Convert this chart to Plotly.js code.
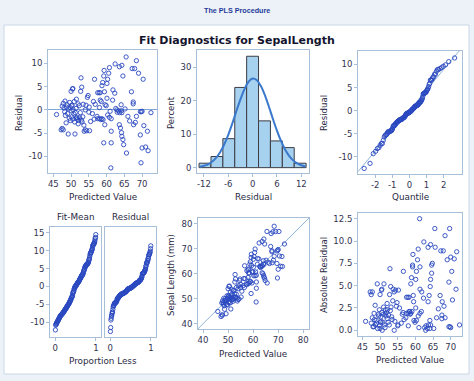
<!DOCTYPE html>
<html>
<head>
<meta charset="utf-8">
<script src="https://cdn.plot.ly/plotly-3.0.1.min.js"></script>
<style>
html,body{margin:0;padding:0;background:#edf2f8;}
#chart{width:474px;height:381px;}
</style>
</head>
<body>
<div id="chart"></div>
<script>
// ---- Data (Iris, PLS fit of SepalLength) ----
const predicted = [
 65.5,68.4,
 59.3,60.6,60.8,62.4,63.6,64.3,67.2,67.9,69.0,
 50.4,50.5,52.8,53.0,56.6,58.7,58.9,59.2,60.1,60.3,64.6,70.3,
 50.0,52.7,54.8,54.6,57.5,57.9,58.2,58.2,58.5,59.4,60.1,61.8,62.3,61.7,67.0,67.5,56.3,48.3,49.6,50.9,51.5,
 45.9,47.5,47.8,48.0,48.2,48.7,48.4,48.9,49.0,49.3,49.8,50.0,50.3,50.6,50.8,51.2,51.4,52.0,52.3,52.6,53.4,54.0,54.2,55.0,55.1,
 56.8,57.3,59.6,59.9,60.3,62.9,63.4,63.7,64.1,64.3,64.1,66.0,67.5,68.4,69.5,69.8,70.0,72.5,
 63.0,62.6,65.2,58.0,56.0,61.0,50.1,
 47.2,47.5,47.8,49.5,50.2,51.7,51.8,52.1,52.4,53.1,53.3,53.6,57.5,58.0,58.4,58.7,59.0,59.5,60.8,61.3,63.6,63.9,66.5,67.6,68.1,70.5,54.0,49.8,50.5,51.0,51.5,52.0,52.9,55.5,56.5,48.6,
 59.2,61.3,64.6,64.3,69.5,49.2,51.1,64.2,61.3,71.5,53.7,54.4,55.2,
 65.6,70.0,71.0,71.7,64.8,
 61.2,69.7
];
const residual = [
 11.4,10.6,
 8.5,7.9,9.1,9.9,9.3,9.6,8.9,8.9,7.9,
 4.5,4.6,6.9,4.9,6.6,5.2,5.9,7.3,5.7,6.6,7.3,6.6,
 4.0,4.0,3.1,2.7,3.7,3.7,3.7,2.1,1.8,3.9,2.5,4.3,3.6,2.1,3.9,1.7,1.8,1.9,1.6,1.8,2.3,
 -1.0,0.8,1.4,0.4,-0.4,0.6,-1.2,1.1,-0.8,0.2,0.5,-0.2,1.0,0.0,-0.9,-0.6,0.3,1.3,0.9,-0.6,1.2,0.0,1.0,-0.5,0.6,
 1.2,-1.4,1.1,0.9,-1.1,0.0,-0.2,-0.6,-0.2,-0.6,1.1,-1.4,1.3,-1.4,-0.4,-0.4,-0.3,-0.6,
 -0.5,0.3,0.2,0.5,-0.8,-0.3,0.9,
 -4.3,-4.0,-4.3,-1.8,-1.5,-1.6,-2.0,-2.3,-1.7,-2.6,-1.5,-3.3,-1.9,-1.9,-2.1,-1.9,-2.1,-3.2,-1.6,-1.9,-3.2,-3.9,-2.4,-3.2,-2.7,-3.4,-4.3,-2.3,-2.0,-2.6,-1.8,-3.0,-2.2,-2.5,-2.0,-2.8,
 -7.1,-7.1,-6.4,-5.7,-5.4,-5.2,-5.2,-4.9,-4.6,-4.6,-4.6,-4.5,-4.5,
 -9.3,-8.2,-8.0,-8.8,-7.5,
 -12.5,-11.4
];
// Histogram of residuals (bin midpoints and percent), as drawn
const binMid = [-11.72,-8.79,-5.86,-2.93,0,2.93,5.86,8.79,11.72];
const binPercent = [1.33,3.33,8.67,24.0,33.33,14.0,8.0,6.0,1.33];
const binWidth = 2.93;
// Normal density overlay
const curveX = [-13,-12,-11,-10,-9,-8,-7,-6,-5,-4,-3,-2,-1,0,1,2,3,4,5,6,7,8,9,10,11,12,13];
const curveY = [0.29,0.55,1.0,1.78,2.94,4.63,6.92,9.8,13.2,16.9,20.4,23.5,25.7,26.67,26.2,24.5,21.8,18.3,14.6,11.1,8.0,5.46,3.54,2.18,1.28,0.71,0.37];
// Tick values
const ticksPred = [45,50,55,60,65,70];
const ticksResid = [-10,-5,0,5,10];
const ticksHistX = [-12,-6,0,6,12];
const ticksPercent = [0,10,20,30];
const ticksQuant = [-2,-1,0,1,2];
const ticksSpread = [-10,-5,0,5,10,15];
const ticksProp = [0,1];
const ticksSepal = [40,50,60,70,80];
const ticksAbs = [0,2.5,5,7.5,10,12.5];

// ---- derived quantities ----
function invNorm(p){
 const a=[-3.969683028665376e+01,2.209460984245205e+02,-2.759285104469687e+02,1.383577518672690e+02,-3.066479806614716e+01,2.506628277459239e+00];
 const b=[-5.447609879822406e+01,1.615858368580409e+02,-1.556989798598866e+02,6.680131188771972e+01,-1.328068155288572e+01];
 const c=[-7.784894002430293e-03,-3.223964580411365e-01,-2.400758277161838e+00,-2.549732539343734e+00,4.374664141464968e+00,2.938163982698783e+00];
 const d=[7.784695709041462e-03,3.224671290700398e-01,2.445134137142996e+00,3.754408661907416e+00];
 const pl=0.02425, ph=1-pl; let q,r;
 if(p<pl){q=Math.sqrt(-2*Math.log(p));return (((((c[0]*q+c[1])*q+c[2])*q+c[3])*q+c[4])*q+c[5])/((((d[0]*q+d[1])*q+d[2])*q+d[3])*q+1);}
 if(p<=ph){q=p-0.5;r=q*q;return (((((a[0]*r+a[1])*r+a[2])*r+a[3])*r+a[4])*r+a[5])*q/(((((b[0]*r+b[1])*r+b[2])*r+b[3])*r+b[4])*r+1);}
 q=Math.sqrt(-2*Math.log(1-p));return -(((((c[0]*q+c[1])*q+c[2])*q+c[3])*q+c[4])*q+c[5])/((((d[0]*q+d[1])*q+d[2])*q+d[3])*q+1);
}
const n = residual.length;
const observed = predicted.map((p,i)=>+(p+residual[i]).toFixed(2));
const absResid = residual.map(r=>Math.abs(r));
const meanPred = predicted.reduce((s,v)=>s+v,0)/n;
const meanRes = residual.reduce((s,v)=>s+v,0)/n;
const sdRes = Math.sqrt(residual.reduce((s,v)=>s+(v-meanRes)*(v-meanRes),0)/(n-1));
const sortedRes = residual.slice().sort((a,b)=>a-b);
const qq = sortedRes.map((v,i)=>invNorm((i+1-0.375)/(n+0.25)));
const fitMean = predicted.map(p=>p-meanPred).sort((a,b)=>a-b);
const resCentered = sortedRes.map(v=>v-meanRes);
const propLess = sortedRes.map((v,i)=>(i+0.5)/n);

// ---- layout helpers ----
const W=474, H=381;
const px = v=>v/W, py = v=>1-v/H;
function dom(x0,x1,y0,y1){return {x:[px(x0),px(x1)], y:[py(y1),py(y0)]};}
const boxes = {
 p1: dom(48,157,50,173),
 p2: dom(197,309,50,173),
 p3: dom(358,462,51,174),
 p4a: dom(50,101,227,337),
 p4b: dom(105,156,227,337),
 p5: dom(198,309,218,329),
 p6: dom(358,462,213,336)
};
const frame = '#a7bfd8';
const tickFont = {family:'DejaVu Sans, sans-serif', size:8.5, color:'#333350'};
function tv(vals, fmt){ return {tickmode:'array', tickvals:vals, ticktext:vals.map(v=>fmt?v.toFixed(fmt):String(v))}; }
function ax(domain, range, extra){
 return Object.assign({domain:domain, range:range, showline:true, mirror:true, linecolor:frame, linewidth:1,
  ticks:'outside', ticklen:3, tickcolor:frame, showgrid:false, zeroline:false, tickfont:tickFont,
  fixedrange:true, automargin:false}, extra||{});
}
const mk = {symbol:'circle-open', size:4.3, color:'#2a48c0', line:{width:0.9, color:'#2a48c0'}};
const refLine = {color:'#8db3da', width:1};

const traces = [
 // P1 residual vs predicted
 {type:'scatter', mode:'markers', x:predicted, y:residual, xaxis:'x', yaxis:'y', marker:mk},
 // P2 histogram + normal curve
 {type:'bar', x:binMid, y:binPercent, width:binMid.map(()=>binWidth), xaxis:'x2', yaxis:'y2',
  marker:{color:'#a6d1ef', line:{color:'#3c3c44', width:1}}},
 {type:'scatter', mode:'lines', x:curveX, y:curveY, xaxis:'x2', yaxis:'y2', line:{color:'#3a79cc', width:2, shape:'spline'}},
 // P3 QQ
 {type:'scatter', mode:'lines', x:[-3.0,3.07], y:[meanRes-3.0*sdRes, meanRes+3.07*sdRes], xaxis:'x3', yaxis:'y3', line:refLine},
 {type:'scatter', mode:'markers', x:qq, y:sortedRes, xaxis:'x3', yaxis:'y3', marker:mk},
 // P4 residual-fit spread
 {type:'scatter', mode:'markers', x:propLess, y:fitMean, xaxis:'x4', yaxis:'y4', marker:mk},
 {type:'scatter', mode:'markers', x:propLess, y:resCentered, xaxis:'x5', yaxis:'y5', marker:mk},
 // P5 observed vs predicted
 {type:'scatter', mode:'lines', x:[38,82.3], y:[38,82.3], xaxis:'x6', yaxis:'y6', line:refLine},
 {type:'scatter', mode:'markers', x:predicted, y:observed, xaxis:'x6', yaxis:'y6', marker:mk},
 // P6 absolute residual
 {type:'scatter', mode:'markers', x:predicted, y:absResid, xaxis:'x7', yaxis:'y7', marker:mk}
];

const labFont = {family:'DejaVu Sans, sans-serif', size:8.8, color:'#2a2a44'};
const vFont = {family:'Liberation Sans Narrow, DejaVu Sans Condensed, Liberation Sans, sans-serif', size:9.5, color:'#2a2a44'};
function lab(text,x,y,rot,font){
 return {text:text, x:px(x), y:py(y), xref:'paper', yref:'paper', showarrow:false, xanchor:'center', yanchor:'middle', textangle:rot||0, font:font||labFont};
}

const layout = {
 width:W, height:H, margin:{l:0,r:0,t:0,b:0}, showlegend:false,
 paper_bgcolor:'#edf2f8', plot_bgcolor:'#ffffff', bargap:0,
 xaxis: ax(boxes.p1.x,[43.5,74.2],Object.assign({anchor:'y'}, tv(ticksPred))),
 yaxis: ax(boxes.p1.y,[-13.6,12.9],Object.assign({anchor:'x', zeroline:true, zerolinecolor:'#7fa5d2', zerolinewidth:1}, tv(ticksResid))),
 xaxis2: ax(boxes.p2.x,[-13.7,13.9],Object.assign({anchor:'y2'}, tv(ticksHistX))),
 yaxis2: ax(boxes.p2.y,[-1.6,35.2],Object.assign({anchor:'x2'}, tv(ticksPercent))),
 xaxis3: ax(boxes.p3.x,[-3.0,3.07],Object.assign({anchor:'y3'}, tv(ticksQuant))),
 yaxis3: ax(boxes.p3.y,[-13.7,12.9],Object.assign({anchor:'x3'}, tv(ticksResid))),
 xaxis4: ax(boxes.p4a.x,[-0.13,1.125],Object.assign({anchor:'y4'}, tv(ticksProp))),
 yaxis4: ax(boxes.p4a.y,[-14.1,16.6],Object.assign({anchor:'x4'}, tv(ticksSpread))),
 xaxis5: ax(boxes.p4b.x,[-0.13,1.125],Object.assign({anchor:'y5'}, tv(ticksProp))),
 yaxis5: ax(boxes.p4b.y,[-14.1,16.6],Object.assign({anchor:'x5', showticklabels:false, ticks:''}, tv(ticksSpread))),
 xaxis6: ax(boxes.p5.x,[38,82.3],Object.assign({anchor:'y6'}, tv(ticksSepal))),
 yaxis6: ax(boxes.p5.y,[37.9,82.3],Object.assign({anchor:'x6'}, tv(ticksSepal))),
 xaxis7: ax(boxes.p6.x,[43.75,73.2],Object.assign({anchor:'y7'}, tv(ticksPred))),
 yaxis7: ax(boxes.p6.y,[-0.64,13.14],Object.assign({anchor:'x7'}, tv(ticksAbs,1))),
 shapes:[
  {type:'rect', xref:'paper', yref:'paper', x0:px(4), x1:px(469), y0:py(374), y1:py(25), fillcolor:'#ffffff', line:{color:'#c9d7e6', width:1}, layer:'below'}
 ],
 annotations:[
  lab('The PLS Procedure',237,11,0,{family:'Liberation Sans, Arial, sans-serif', size:7.2, color:'#1f3c99', weight:'bold'}),
  lab('<b>Fit Diagnostics for SepalLength</b>',237,40,0,{family:'DejaVu Sans, sans-serif', size:11, color:'#14142e'}),
  lab('Predicted Value',102.5,197),
  lab('Residual',253,197),
  lab('Quantile',410,197),
  lab('Residual',18,113,-90,vFont),
  lab('Percent',170,113,-90,vFont),
  lab('Residual',323,113,-90,vFont),
  lab('Fit-Mean',75.5,217),
  lab('Residual',130.5,217),
  lab('Proportion Less',103,361),
  lab('Predicted Value',253,354),
  lab('Sepal Length (mm)',170,275,-90,vFont),
  lab('Predicted Value',410,360),
  lab('Absolute Residual',323,275,-90,vFont)
 ]
};
Plotly.newPlot('chart', traces, layout, {staticPlot:true, displayModeBar:false});
</script>
</body>
</html>
